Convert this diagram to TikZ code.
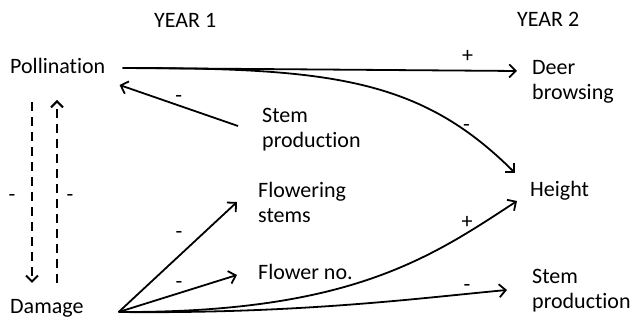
\documentclass[tikz,border=0pt]{standalone}
\usepackage{fontspec}
\setmainfont{Carlito}[Ligatures=NoCommon]
\usetikzlibrary{arrows.meta}

\begin{document}
\begin{tikzpicture}[x=1pt, y=-1pt,
        txt/.style={inner sep=0, anchor=base west, align=left, font=\fontsize{22}{25}\selectfont},
        sgn/.style={inner sep=0, font=\fontsize{22}{25}\selectfont},
        eff/.style={line width=1.8pt, -{Straight Barb[length=6.5pt, width=13pt]}},
        back/.style={line width=2pt, dash pattern=on 9pt off 6pt, -{Straight Barb[length=6pt, width=12pt]}}]
        \useasboundingbox (0,0) rectangle (633,320);

        \node[txt] (Y1) at (154,28) {YEAR 1};
        \node[txt] (Y2) at (517,27) {YEAR 2};
        \node[txt] (Pol) at (10,74) {Pollination};
        \node[txt] (Dam) at (10,314) {Damage};
        \node[txt] (Stem1) at (262,148) {Stem\\production};
        \node[txt] (Flst) at (258,223) {Flowering\\stems};
        \node[txt] (Flno) at (258,280) {Flower no.};
        \node[txt] (Deer) at (532,100) {Deer\\browsing};
        \node[txt] (Hgt) at (530,197) {Height};
        \node[txt] (Stem2) at (532,309) {Stem\\production};

        % year 1 -> year 2
        \draw[eff] ([shift={(17pt,6pt)}]Pol.base east) -- ([shift={(-15pt,29pt)}]Deer.base west)
            node [sgn, pos=0.875, yshift=14.5pt] {+};
        \draw[eff] ([shift={(17pt,6pt)}]Pol.base east) .. controls (330,68) and (420,78) .. ([shift={(-15pt,24pt)}]Hgt.base west)
            node [sgn, pos=0.82, xshift=3pt, yshift=2pt] {-};
        \draw[eff] ([shift={(35pt,2pt)}]Dam.base east) .. controls (350,313) and (430,258) .. ([shift={(-13pt,-4pt)}]Hgt.base west)
            node [sgn, pos=0.81, yshift=10.8pt] {+};
        \draw[eff] ([shift={(35pt,2pt)}]Dam.base east) .. controls (300,314) and (420,298) .. ([shift={(-25pt,19pt)}]Stem2.base west)
            node [sgn, pos=0.855, yshift=6.2pt] {-};

        % within year 1
        \draw[eff] ([shift={(-24pt,22pt)}]Stem1.base west) -- ([shift={(14pt,-11pt)}]Pol.base east)
            node [sgn, midway, yshift=7pt] {-};
        \draw[eff] ([shift={(35pt,2pt)}]Dam.base east) -- ([shift={(-21pt,21pt)}]Flst.base west)
            node [sgn, pos=0.51, yshift=20.5pt] {-};
        \draw[eff] ([shift={(35pt,2pt)}]Dam.base east) -- ([shift={(-21pt,5pt)}]Flno.base west)
            node [sgn, pos=0.51, yshift=7.7pt] {-};

        \draw[back] ([shift={(22pt,-28pt)}]Pol.base west) -- ([shift={(22pt,31pt)}]Dam.base west)
            node [sgn, midway, xshift=-20pt, yshift=-5pt] {-};
        \draw[back] ([shift={(47pt,31pt)}]Dam.base west) -- ([shift={(47pt,-26pt)}]Pol.base west)
            node [sgn, midway, xshift=13pt, yshift=-6pt] {-};
    \end{tikzpicture}
\end{document}
